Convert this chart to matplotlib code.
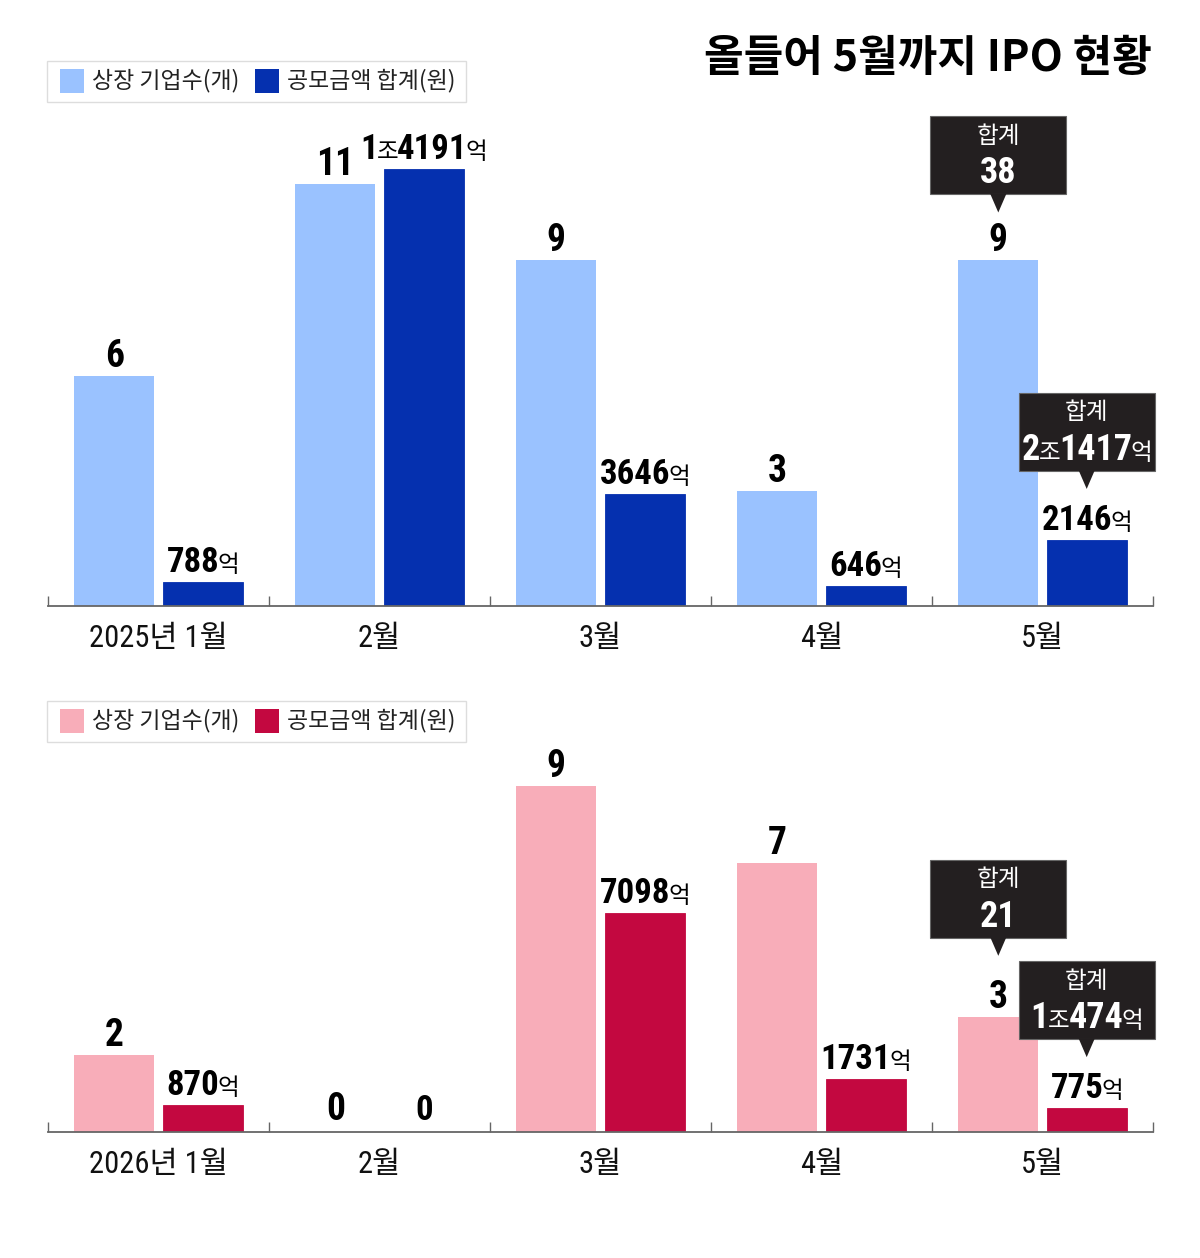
import matplotlib
matplotlib.use("Agg")
import numpy as np
import matplotlib.pyplot as plt
from matplotlib import font_manager, transforms
from matplotlib.patches import Rectangle, Polygon

# ---------------- data ----------------
labels_2025 = ["2025년 1월", "2월", "3월", "4월", "5월"]
labels_2026 = ["2026년 1월", "2월", "3월", "4월", "5월"]
count_2025 = [6, 11, 9, 3, 9]               # 상장 기업수(개)
amount_2025 = [788, 14191, 3646, 646, 2146]  # 공모금액(억원)
count_2026 = [2, 0, 9, 7, 3]
amount_2026 = [870, 0, 7098, 1731, 775]
legend_labels = ["상장 기업수(개)", "공모금액 합계(원)"]
title = "올들어 5월까지 IPO 현황"

colors_2025 = ["#9ac2ff", "#0530af"]
colors_2026 = ["#f8adb9", "#c30840"]

W, H = 1200, 1258
AMT_PER_COUNT = 1247.0   # 억 per count unit so both series share one scale
YMAX = 12.92


def has_font(name):
    try:
        font_manager.findfont(font_manager.FontProperties(family=name),
                              fallback_to_default=False)
        return True
    except Exception:
        return False


NUM = next((f for f in ["Roboto Condensed", "Archivo Narrow", "PT Sans Narrow",
                        "Liberation Sans Narrow"] if has_font(f)), "Liberation Sans")
KR = "Noto Sans CJK KR"

fig = plt.figure(figsize=(W / 100, H / 100), dpi=100)
ident = transforms.IdentityTransform()


def px(y_top):
    # top-based pixel row -> display y
    return H - y_top


def rich(x0, y0, parts, color="black"):
    """parts: (text, size, weight, family, kern) laid side by side, centred on x0"""
    texts = []
    for s, size, weight, fam, kern in parts:
        t = fig.text(0, 0, s, fontsize=size, fontweight=weight, family=fam,
                     color=color, ha="left", va="baseline", transform=ident,
                     zorder=6)
        texts.append((t, kern))
    r = fig.canvas.get_renderer()
    widths = [t.get_window_extent(r).width + k for t, k in texts]
    cx = x0 - sum(widths) / 2
    for (t, k), w in zip(texts, widths):
        t.set_position((cx, y0))
        cx += w


def amount_parts(v, big, small):
    if v == 0:
        return [("0", big, "bold", NUM, 0)]
    parts = []
    if v >= 10000:
        parts += [(str(v // 10000), big, "bold", NUM, -1),
                  ("조", small, "normal", KR, -1)]
        v = v % 10000
    parts += [(str(v), big, "bold", NUM, -2), ("억", small, "normal", KR, 0)]
    return parts


def callout(ax, x, val, tip_gap, value_parts):
    bx, by = ax.transData.transform((x, val))
    tip = by + tip_gap
    bottom = tip + 18
    w, h = 136, 78
    fig.add_artist(Rectangle((bx - w / 2, bottom), w, h, transform=ident,
                             facecolor="#231f20", edgecolor="#666666",
                             lw=0.8, zorder=5))
    fig.add_artist(Polygon([(bx - 8, bottom + 0.5), (bx + 8, bottom + 0.5), (bx, tip)],
                           closed=True, transform=ident, facecolor="#231f20",
                           edgecolor="none", zorder=5))
    fig.text(bx, bottom + h - 20, "합계", color="white", fontsize=17,
             family=KR, ha="center", va="center", transform=ident, zorder=6)
    rich(bx, bottom + 11, value_parts, color="white")


def legend(y_top, cols):
    fig.add_artist(Rectangle((47, px(y_top + 41)), 419, 41, transform=ident,
                             facecolor="white", edgecolor="#dddddd", lw=1, zorder=4))
    xs = [(60, 92), (255, 287)]
    for (sx, tx), c, lab in zip(xs, cols, legend_labels):
        fig.add_artist(Rectangle((sx, px(y_top + 32)), 24, 24, transform=ident,
                                 facecolor=c, edgecolor="none", zorder=5))
        fig.text(tx, px(y_top + 20), lab, fontsize=16.5, family=KR, color="#222222",
                 ha="left", va="center", transform=ident, zorder=6)


def panel(base_top, cats, counts, amounts, cols):
    ax = fig.add_axes([48 / W, (H - base_top) / H, 1105 / W, 496 / H])
    ax.patch.set_visible(False)
    x = np.arange(len(cats))
    amt_scaled = np.array(amounts) / AMT_PER_COUNT
    ax.bar(x - 0.2, counts, width=0.362, color=cols[0], linewidth=0)
    ax.bar(x + 0.2, amt_scaled, width=0.362, color=cols[1],
           edgecolor=cols[1], linewidth=0.6)
    ax.set_xlim(-0.5, len(cats) - 0.5)
    ax.set_ylim(0, YMAX)
    for s in ["top", "left", "right"]:
        ax.spines[s].set_visible(False)
    ax.spines["bottom"].set_color("#666666")
    ax.spines["bottom"].set_linewidth(1.3)
    ax.set_yticks([])
    ax.set_xticks(np.arange(-0.5, len(cats), 1))
    ax.set_xticklabels([])
    ax.tick_params(axis="x", direction="in", length=7.5, width=1, color="#666666")

    for i in range(len(cats)):
        cx, cy = ax.transData.transform((x[i] - 0.2, counts[i]))
        rich(cx, cy + (12 if counts[i] == 0 else 9),
             [(str(counts[i]), 27, "bold", NUM, 0)])
        ax_, ay = ax.transData.transform((x[i] + 0.2, amt_scaled[i]))
        rich(ax_, ay + (12 if amounts[i] == 0 else 10),
             amount_parts(amounts[i], 25, 17))
        lx, ly = ax.transData.transform((x[i], 0))
        fig.text(lx, ly - 41, cats[i], fontsize=22, family=[NUM, KR],
                 color="#111111", ha="center", va="baseline", transform=ident)
    return ax, x, amt_scaled


fig.text(1152, px(71), title, fontsize=31, fontweight="bold", family=KR,
         ha="right", va="baseline", transform=ident)

legend(61, colors_2025)
ax1, x1, a1 = panel(606, labels_2025, count_2025, amount_2025, colors_2025)
callout(ax1, x1[4] - 0.2, count_2025[4], 48,
        [(str(sum(count_2025)), 26, "bold", NUM, 0)])
callout(ax1, x1[4] + 0.2, a1[4], 51, amount_parts(sum(amount_2025), 26, 17))

legend(701, colors_2026)
ax2, x2, a2 = panel(1132, labels_2026, count_2026, amount_2026, colors_2026)
callout(ax2, x2[4] - 0.2, count_2026[4], 61,
        [(str(sum(count_2026)), 26, "bold", NUM, 0)])
callout(ax2, x2[4] + 0.2, a2[4], 51, amount_parts(sum(amount_2026), 26, 17))

fig.savefig("out.png", dpi=100, facecolor="white")
